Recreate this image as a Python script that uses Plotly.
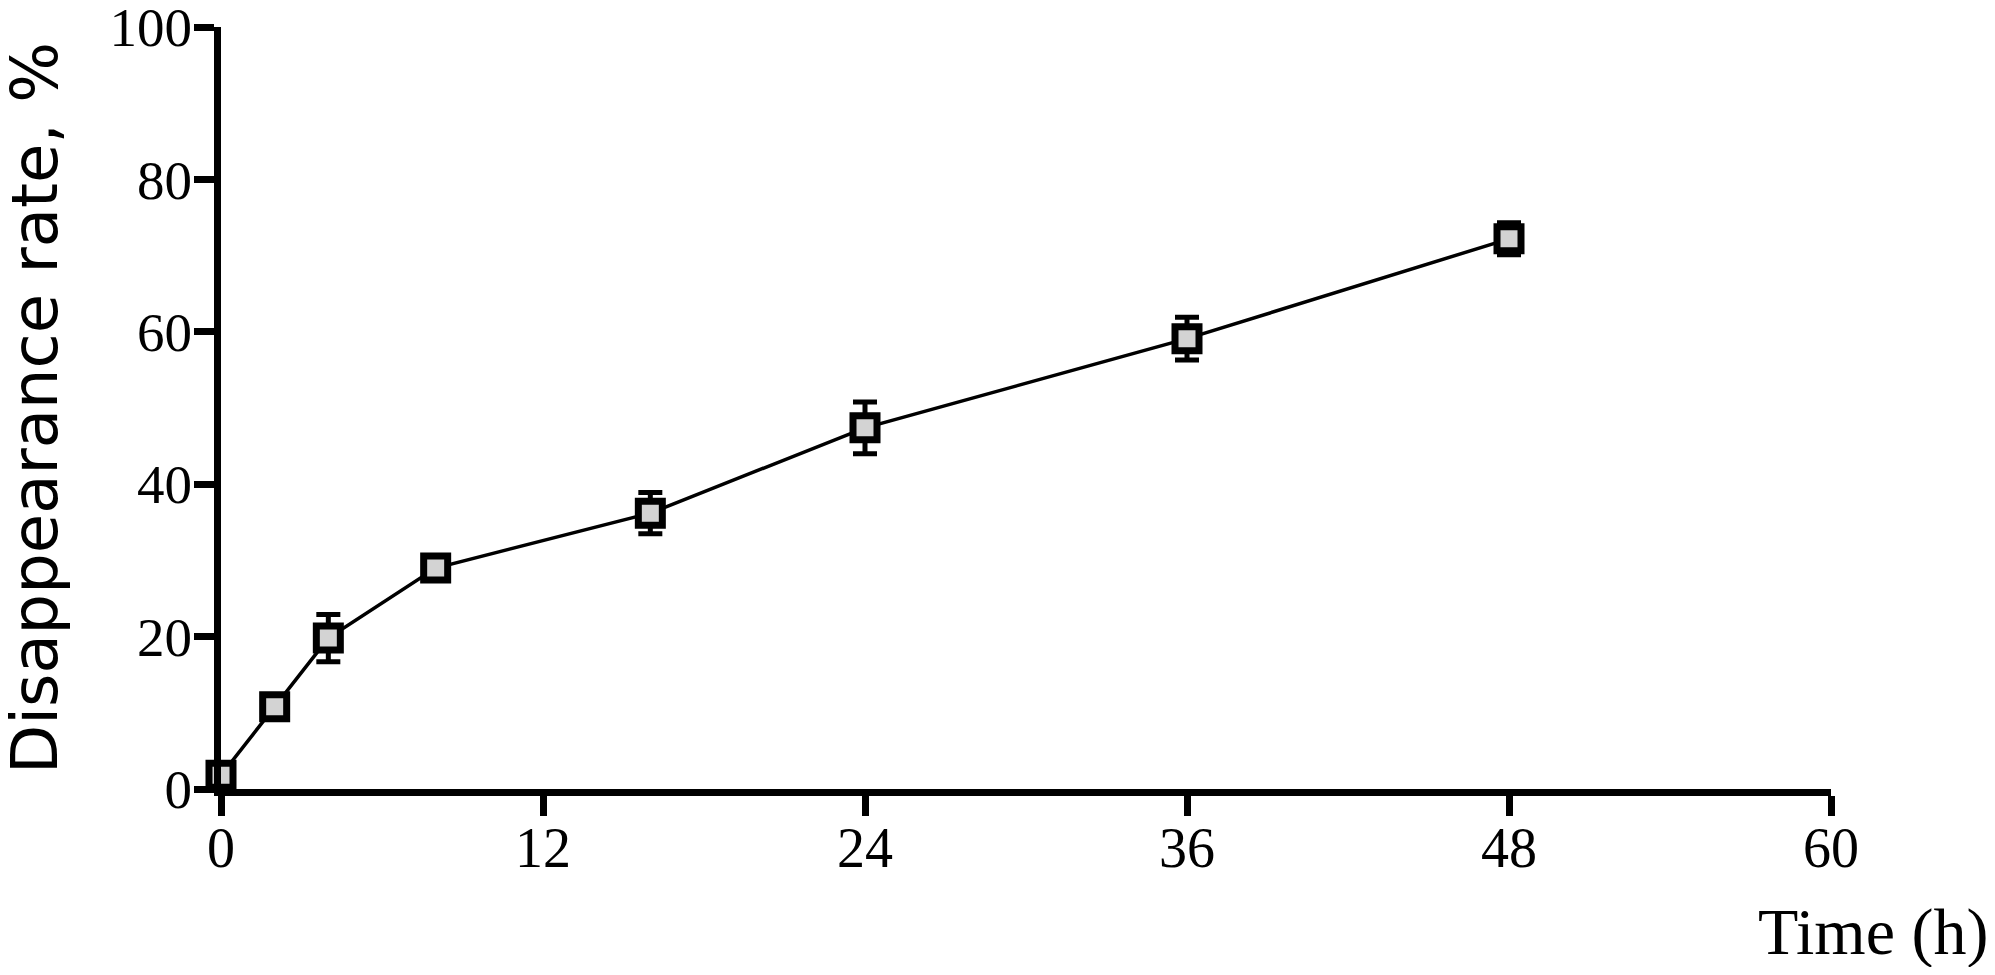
import plotly.graph_objects as go

time_h = [0, 2, 4, 8, 16, 24, 36, 48]
rate = [1.8, 10.8, 19.8, 29.0, 36.2, 47.4, 59.1, 72.2]
rate_err = [0.5, 0.8, 3.1, 1.2, 2.7, 3.4, 2.8, 2.1]
x_ticks = [0, 12, 24, 36, 48, 60]
y_ticks = [0, 20, 40, 60, 80, 100]

# page has an 8px body margin; figure sized so page totals 1995x975
W, H = 1979, 959
L, R, T, B = 213, 156, 19, 178
plot_w = W - L - R
plot_h = H - T - B

fig = go.Figure()
fig.add_trace(go.Scatter(
    x=time_h, y=rate,
    mode="lines+markers",
    line=dict(color="black", width=3.5),
    marker=dict(symbol="square", size=24, color="#d3d3d3",
                line=dict(color="black", width=7)),
    error_y=dict(type="data", array=rate_err, visible=True,
                 color="black", thickness=5, width=12),
    cliponaxis=False,
    showlegend=False,
))

serif = "Liberation Serif, Times New Roman, serif"
axis_common = dict(
    showline=True, linecolor="black", linewidth=7,
    ticks="outside", ticklen=20, tickwidth=7, tickcolor="black",
    showgrid=False, zeroline=False, automargin=False,
    ticklabeloverflow="allow",
)

fig.update_layout(
    width=W, height=H,
    margin=dict(l=L, r=R, t=T, b=B, pad=0, autoexpand=False),
    paper_bgcolor="white", plot_bgcolor="white",
    xaxis=dict(range=[0, 60], tickvals=x_ticks, ticklabelstandoff=-16,
               tickfont=dict(family=serif, size=56, color="black"), **axis_common),
    yaxis=dict(range=[0, 100], tickvals=y_ticks, ticklabelstandoff=-9,
               tickfont=dict(family=serif, size=55, color="black"), **axis_common),
    annotations=[
        dict(text="Time (h)", xref="paper", yref="paper",
             x=(1982 - L) / plot_w, y=-(924 - (H - B)) / plot_h,
             xanchor="right", yanchor="middle", showarrow=False,
             font=dict(family=serif, size=66, color="black")),
        dict(text="Disappearance rate, %", xref="paper", yref="paper",
             x=(27 - L) / plot_w, y=0.5, textangle=-90,
             xanchor="center", yanchor="middle", showarrow=False,
             font=dict(family="DejaVu Sans, sans-serif", size=64, color="black")),
    ],
)

fig.write_html("out.html")
